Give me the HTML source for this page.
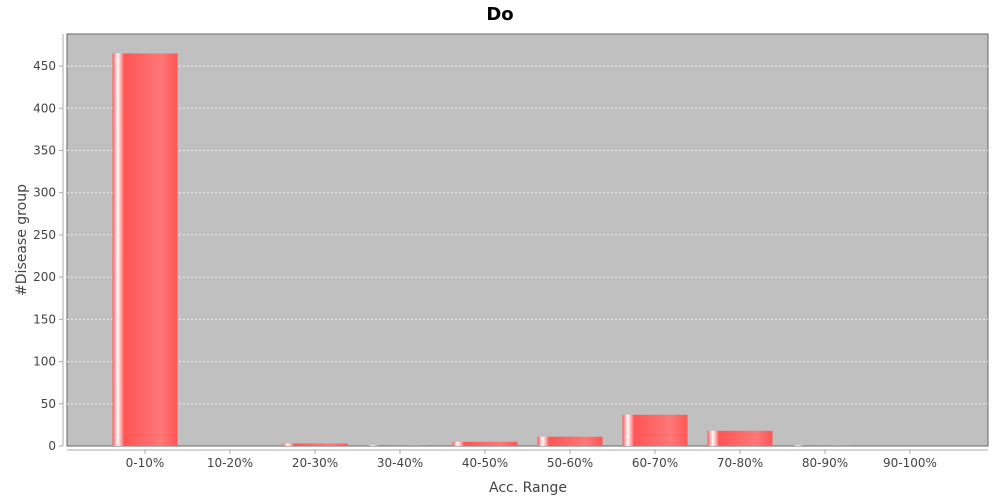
<!DOCTYPE html>
<html><head><meta charset="utf-8"><style>
body{margin:0;background:#fff;font-family:"DejaVu Sans","Liberation Sans",sans-serif}
</style></head><body>
<svg id="chart" width="1000" height="500" xmlns="http://www.w3.org/2000/svg" font-family="DejaVu Sans, Liberation Sans, sans-serif">
<defs>
<linearGradient id="bg" x1="0" x2="1" y1="0" y2="0">
<stop offset="0" stop-color="#ff5555"/>
<stop offset="0.08" stop-color="#ffffff"/>
<stop offset="0.18" stop-color="#ff5555"/>
<stop offset="0.75" stop-color="#ff7777"/>
<stop offset="1" stop-color="#ff5555"/>
</linearGradient>
</defs>
<text x="500" y="20" text-anchor="middle" font-size="18" font-weight="bold" fill="#000">Do</text>
<rect x="67" y="34" width="921" height="412" fill="#c0c0c0" stroke="#666" stroke-width="1"/>
<g id="grid"></g><g id="bars"></g><g id="axes"></g>
<text x="528" y="492" text-anchor="middle" font-size="14" fill="#444">Acc. Range</text>
<text transform="translate(26,240) rotate(-90)" text-anchor="middle" font-size="14" fill="#444">#Disease group</text>
</svg>
<script>
const categories=["0-10%","10-20%","20-30%","30-40%","40-50%","50-60%","60-70%","70-80%","80-90%","90-100%"];
const values=[465,0,3,1,5,11,37,18,1,0];
const yTicks=[0,50,100,150,200,250,300,350,400,450];
const NS="http://www.w3.org/2000/svg";
const x0=67,x1=988,yb=446,yMax=488;
const y=v=>yb-v*(412/yMax);
const step=85,first=145,bw=65;
const xc=i=>first+i*step;
function mk(t,a,p){const e=document.createElementNS(NS,t);for(const k in a)e.setAttribute(k,a[k]);p.appendChild(e);return e;}
const grid=document.getElementById('grid'),bars=document.getElementById('bars'),axes=document.getElementById('axes');
mk('line',{x1:63,y1:34,x2:63,y2:446,stroke:'#aaa'},axes);
mk('line',{x1:67,y1:450,x2:988,y2:450,stroke:'#aaa'},axes);
yTicks.forEach(t=>{
 if(t>0){const g=mk('line',{x1:x0,x2:x1,y1:y(t),y2:y(t),stroke:'#eee','stroke-dasharray':'2,2'},grid);
 
 }
 mk('line',{x1:59,x2:63,y1:y(t),y2:y(t),stroke:'#aaa'},axes);
 const l=mk('text',{x:56,y:y(t)+4,'text-anchor':'end','font-size':12,fill:'#444'},axes);
 l.textContent=t;
 
 
});
categories.forEach((c,i)=>{
 const v=values[i];
 if(v>0){const r=mk('rect',{x:xc(i)-bw/2,y:y(v),width:bw,height:yb-y(v),fill:'url(#bg)'},bars);
 
 }
 mk('line',{x1:xc(i),x2:xc(i),y1:450,y2:454,stroke:'#aaa'},axes);
 const l=mk('text',{x:xc(i),y:467,'text-anchor':'middle','font-size':12,fill:'#444'},axes);
 l.textContent=c;
 
 
});
</script>
</body></html>
